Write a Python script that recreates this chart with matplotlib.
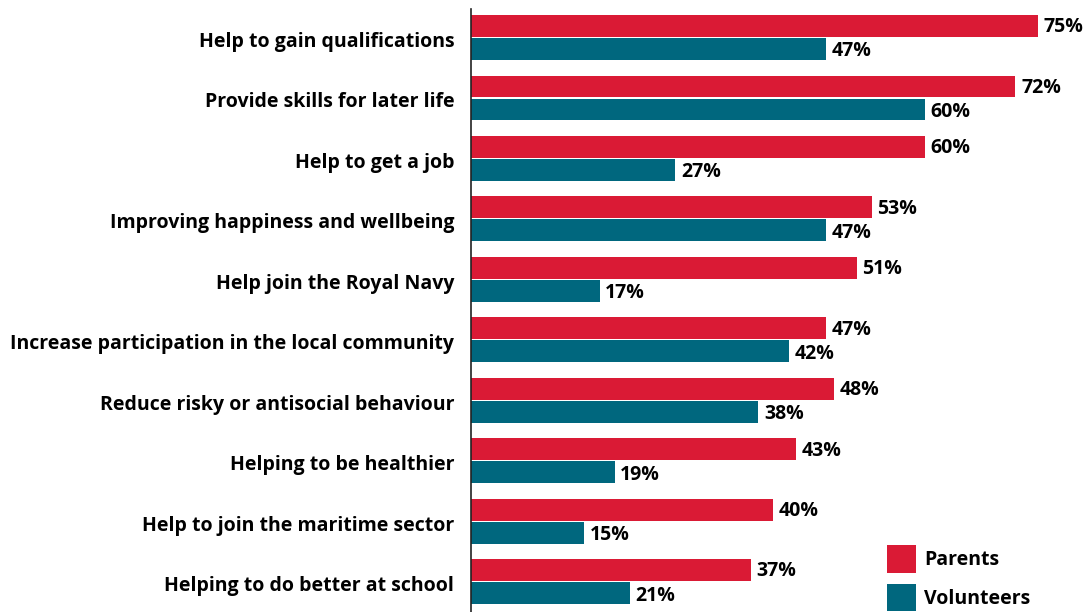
import matplotlib.pyplot as plt
import numpy as np

plt.rcParams['font.family'] = ['Open Sans', 'DejaVu Sans']

# data
categories = [
    'Help to gain qualifications',
    'Provide skills for later life',
    'Help to get a job',
    'Improving happiness and wellbeing',
    'Help join the Royal Navy',
    'Increase participation in the local community',
    'Reduce risky or antisocial behaviour',
    'Helping to be healthier',
    'Help to join the maritime sector',
    'Helping to do better at school',
]
parents = [75, 72, 60, 53, 51, 47, 48, 43, 40, 37]
volunteers = [47, 60, 27, 47, 17, 42, 38, 19, 15, 21]

red = '#da1a35'
teal = '#00677e'
fs = 14

fig = plt.figure(figsize=(10.88, 6.12), dpi=100)
ax = fig.add_axes([471 / 1088, 0, 1 - 471 / 1088, 1 - 9 / 612])

y = np.arange(len(categories))
h = 0.36
ax.barh(y - h / 2 - 0.01, parents, height=h, color=red, label='Parents')
ax.barh(y + h / 2 + 0.01, volunteers, height=h, color=teal, label='Volunteers')

# value labels next to the bars
for i in range(len(categories)):
    ax.text(parents[i] + 0.75, y[i] - h / 2 + 0.01, f'{parents[i]}%', va='center', ha='left',
            fontsize=fs, fontweight='bold')
    ax.text(volunteers[i] + 0.75, y[i] + h / 2 + 0.05, f'{volunteers[i]}%', va='center', ha='left',
            fontsize=fs, fontweight='bold')

ax.set_xlim(0, 81.6)
ax.set_ylim(9.5, -0.47)
ax.set_yticks(y + 0.03)
ax.set_yticklabels(categories, fontsize=fs, fontweight='bold')
ax.tick_params(axis='y', length=0, pad=12)
ax.set_xticks([])
for s in ['top', 'right', 'bottom']:
    ax.spines[s].set_visible(False)
ax.spines['left'].set_color('#222222')
ax.spines['left'].set_linewidth(1.2)

fig.legend(loc='upper left', bbox_to_anchor=(887 / 1088, 1 - 545 / 612), frameon=False,
           borderpad=0, borderaxespad=0, handlelength=1.47, handleheight=1.8,
           handletextpad=0.45, labelspacing=0.58, prop={'size': fs, 'weight': 'bold'})

fig.savefig('out.png', dpi=100)
